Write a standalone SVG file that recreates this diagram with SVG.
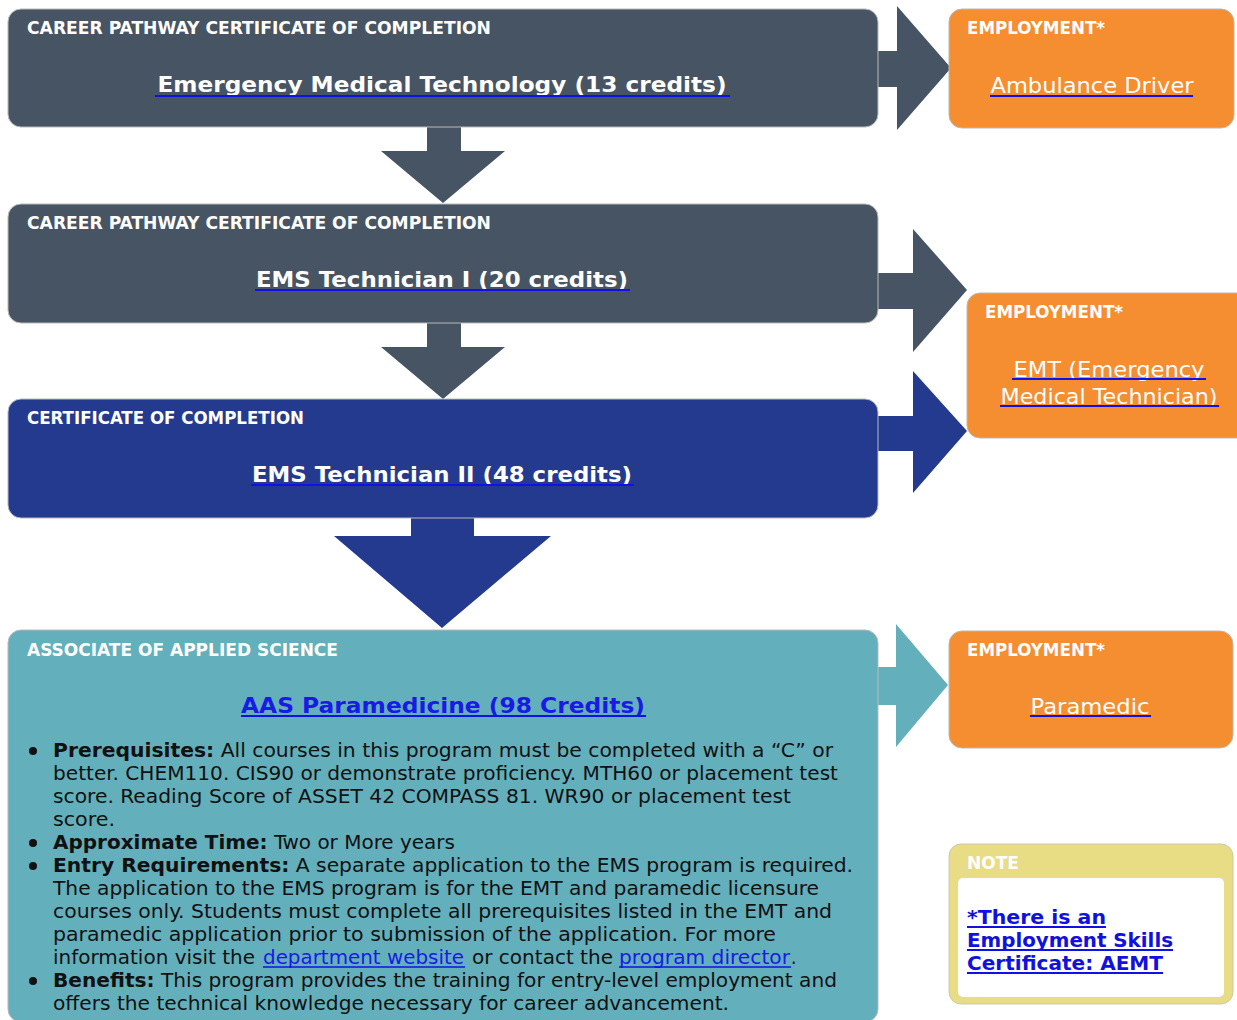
<svg xmlns="http://www.w3.org/2000/svg" width="1237" height="1020" viewBox="0 0 1237 1020">
<style>
.slate{fill:#465464}
.blue{fill:#233a8f}
.teal{fill:#64afbc}
.orange{fill:#f48e31}
.box{stroke:#b9b9b9;stroke-width:1}
.hdr{font-family:"DejaVu Sans Condensed","DejaVu Sans",sans-serif;font-weight:bold;font-size:17px;fill:#ffffff}
.ttl{font-family:"DejaVu Sans",sans-serif;font-weight:bold;font-size:22px;fill:#ffffff;text-anchor:middle}
.job{font-family:"DejaVu Sans",sans-serif;font-size:22px;fill:#ffffff;text-anchor:middle}
.body{font-family:"DejaVu Sans Condensed","DejaVu Sans",sans-serif;font-size:19px;fill:#111111}
.b{font-weight:bold}
.lnk{fill:#1a1ae6}
.ul{stroke:#1010e8;stroke-width:2}
.note{font-family:"DejaVu Sans",sans-serif;font-weight:bold;font-size:19px;fill:#1010e0}
</style>

<g id="connectors">
  <polygon class="slate" points="427,126 461,126 461,151 505,151 443,203 381,151 427,151"/>
  <polygon class="slate" points="427,322 461,322 461,347 505,347 443,399 381,347 427,347"/>
  <polygon class="blue" points="411,517 474,517 474,536 551,536 442,628 334,536 411,536"/>
  <polygon class="slate" points="877,51 897,51 897,6 951,68 897,130 897,87 877,87"/>
  <polygon class="slate" points="877,273 913,273 913,229 967,290 913,352 913,309 877,309"/>
  <polygon class="blue" points="877,416 913,416 913,371 967,431 913,493 913,451 877,451"/>
  <polygon class="teal" points="877,667 896,667 896,624 948,685 896,747 896,705 877,705"/>
</g>

<g id="node-emt">
  <rect class="slate box" x="8" y="9" width="870" height="118" rx="13"/>
  <text class="hdr" x="27" y="34" textLength="464" lengthAdjust="spacingAndGlyphs">CAREER PATHWAY CERTIFICATE OF COMPLETION</text>
  <text class="ttl" x="442" y="92" textLength="569" lengthAdjust="spacingAndGlyphs">Emergency Medical Technology (13 credits)</text>
  <line class="ul" x1="155" y1="96" x2="730" y2="96"/>
</g>

<g id="node-ems1">
  <rect class="slate box" x="8" y="204" width="870" height="119" rx="13"/>
  <text class="hdr" x="27" y="229" textLength="464" lengthAdjust="spacingAndGlyphs">CAREER PATHWAY CERTIFICATE OF COMPLETION</text>
  <text class="ttl" x="442" y="287" textLength="372" lengthAdjust="spacingAndGlyphs">EMS Technician I (20 credits)</text>
  <line class="ul" x1="255" y1="290" x2="630" y2="290"/>
</g>

<g id="node-ems2">
  <rect class="blue box" x="8" y="399" width="870" height="119" rx="13"/>
  <text class="hdr" x="27" y="424" textLength="277" lengthAdjust="spacingAndGlyphs">CERTIFICATE OF COMPLETION</text>
  <text class="ttl" x="442" y="482" textLength="380" lengthAdjust="spacingAndGlyphs">EMS Technician II (48 credits)</text>
  <line class="ul" x1="251" y1="485" x2="634" y2="485"/>
</g>

<g id="node-aas">
  <rect class="teal box" x="8" y="630" width="870" height="392" rx="13"/>
  <text class="hdr" x="27" y="656" textLength="311" lengthAdjust="spacingAndGlyphs">ASSOCIATE OF APPLIED SCIENCE</text>
  <text class="ttl" x="443" y="713" textLength="404" lengthAdjust="spacingAndGlyphs" style="fill:#1a1ae6">AAS Paramedicine (98 Credits)</text>
  <line class="ul" x1="241" y1="716" x2="646" y2="716"/>
  <g class="body">
    <circle cx="33" cy="751" r="4" fill="#111"/>
    <circle cx="33" cy="843" r="4" fill="#111"/>
    <circle cx="33" cy="866" r="4" fill="#111"/>
    <circle cx="33" cy="981" r="4" fill="#111"/>
    <text x="53" y="757" textLength="780" lengthAdjust="spacingAndGlyphs"><tspan class="b">Prerequisites:</tspan> All courses in this program must be completed with a “C” or</text>
    <text x="53" y="780" textLength="785" lengthAdjust="spacingAndGlyphs">better. CHEM110. CIS90 or demonstrate proficiency. MTH60 or placement test</text>
    <text x="53" y="803" textLength="738" lengthAdjust="spacingAndGlyphs">score. Reading Score of ASSET 42 COMPASS 81. WR90 or placement test</text>
    <text x="53" y="826" textLength="62" lengthAdjust="spacingAndGlyphs">score.</text>
    <text x="53" y="849" textLength="402" lengthAdjust="spacingAndGlyphs"><tspan class="b">Approximate Time:</tspan> Two or More years</text>
    <text x="53" y="872" textLength="800" lengthAdjust="spacingAndGlyphs"><tspan class="b">Entry Requirements:</tspan>  A separate application to the EMS program is required.</text>
    <text x="53" y="895" textLength="766" lengthAdjust="spacingAndGlyphs">The application to the EMS program is for the EMT and paramedic licensure</text>
    <text x="53" y="918" textLength="779" lengthAdjust="spacingAndGlyphs">courses only. Students must complete all prerequisites listed in the EMT and</text>
    <text x="53" y="941" textLength="723" lengthAdjust="spacingAndGlyphs">paramedic application prior to submission of the application. For more</text>
    <text x="53" y="964" textLength="202" lengthAdjust="spacingAndGlyphs">information visit the</text>
    <text class="lnk" x="263" y="964" textLength="201" lengthAdjust="spacingAndGlyphs">department website</text>
    <text x="472" y="964" textLength="141" lengthAdjust="spacingAndGlyphs">or contact the</text>
    <text class="lnk" x="619" y="964" textLength="171" lengthAdjust="spacingAndGlyphs">program director</text>
    <text x="791" y="964">.</text>
    <text x="53" y="987" textLength="784" lengthAdjust="spacingAndGlyphs"><tspan class="b">Benefits:</tspan> This program provides the training for entry-level employment and</text>
    <text x="53" y="1010" textLength="676" lengthAdjust="spacingAndGlyphs">offers the technical knowledge necessary for career advancement.</text>
  </g>
  <line class="ul" x1="263" y1="967" x2="465" y2="967" style="stroke-width:1.5"/>
  <line class="ul" x1="619" y1="967" x2="791" y2="967" style="stroke-width:1.5"/>
</g>

<g id="node-job-ambulance">
  <rect class="orange box" x="949" y="9" width="285" height="119" rx="13"/>
  <text class="hdr" x="967" y="34" textLength="138" lengthAdjust="spacingAndGlyphs">EMPLOYMENT*</text>
  <text class="job" x="1092" y="93" textLength="203" lengthAdjust="spacingAndGlyphs">Ambulance Driver</text>
  <line class="ul" x1="990" y1="96" x2="1193" y2="96"/>
</g>

<g id="node-job-emt">
  <rect class="orange box" x="967" y="293" width="285" height="145" rx="13"/>
  <text class="hdr" x="985" y="318" textLength="138" lengthAdjust="spacingAndGlyphs">EMPLOYMENT*</text>
  <text class="job" x="1109" y="377" textLength="191" lengthAdjust="spacingAndGlyphs">EMT (Emergency</text>
  <line class="ul" x1="1012" y1="379" x2="1206" y2="379"/>
  <text class="job" x="1109" y="404" textLength="217" lengthAdjust="spacingAndGlyphs">Medical Technician)</text>
  <line class="ul" x1="1000" y1="406" x2="1219" y2="406"/>
</g>

<g id="node-job-paramedic">
  <rect class="orange box" x="949" y="631" width="284" height="117" rx="13"/>
  <text class="hdr" x="967" y="656" textLength="138" lengthAdjust="spacingAndGlyphs">EMPLOYMENT*</text>
  <text class="job" x="1090" y="714" textLength="119" lengthAdjust="spacingAndGlyphs">Paramedic</text>
  <line class="ul" x1="1030" y1="716" x2="1151" y2="716"/>
</g>

<g id="node-note">
  <rect x="949" y="844" width="284" height="160" rx="12" fill="#e8dc84" stroke="#c9c9b0" stroke-width="1"/>
  <rect x="958" y="878" width="266" height="119" rx="5" fill="#ffffff"/>
  <text class="hdr" x="967" y="869" textLength="52" lengthAdjust="spacingAndGlyphs">NOTE</text>
  <text class="note" x="967" y="924" textLength="139" lengthAdjust="spacingAndGlyphs">*There is an</text>
  <line class="ul" x1="967" y1="927" x2="1106" y2="927"/>
  <text class="note" x="967" y="947" textLength="206" lengthAdjust="spacingAndGlyphs">Employment Skills</text>
  <line class="ul" x1="967" y1="950" x2="1173" y2="950"/>
  <text class="note" x="967" y="970" textLength="196" lengthAdjust="spacingAndGlyphs">Certificate: AEMT</text>
  <line class="ul" x1="967" y1="973" x2="1163" y2="973"/>
</g>
</svg>
